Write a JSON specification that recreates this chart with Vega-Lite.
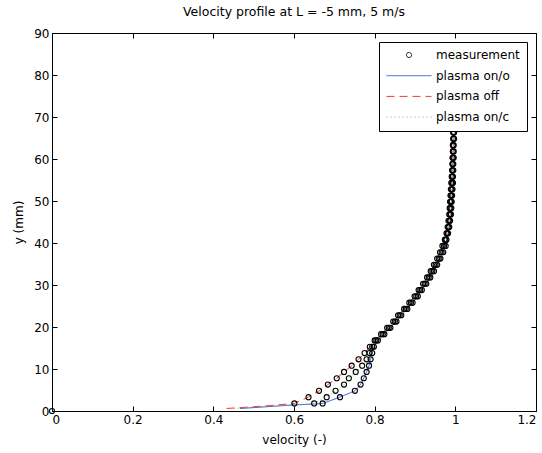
{
  "$schema": "https://vega.github.io/schema/vega-lite/v6.json",
  "width": 484,
  "height": 378,
  "autosize": {"type": "none"},
  "padding": {"left": 52, "top": 33, "right": 6, "bottom": 42},
  "background": "white",
  "title": {"text": "Velocity profile at L = -5 mm, 5 m/s", "font": "DejaVu Sans", "fontSize": 12.5, "fontWeight": "normal", "color": "black", "offset": 9},
  "data": {"values": [
    {"s": "measurement", "v": 0, "y": 0, "m": 1},
    {"s": "plasma on/o", "v": 0.466, "y": 0.6, "m": 0},
    {"s": "plasma on/o", "v": 0.53, "y": 1.0, "m": 0},
    {"s": "plasma on/o", "v": 0.60, "y": 1.45, "m": 0},
    {"s": "plasma on/o", "v": 0.65, "y": 1.65, "m": 0},
    {"s": "plasma on/o", "v": 0.671, "y": 1.8, "m": 1},
    {"s": "plasma on/o", "v": 0.714, "y": 3.3, "m": 1},
    {"s": "plasma on/o", "v": 0.751, "y": 4.8, "m": 1},
    {"s": "plasma on/o", "v": 0.765, "y": 6.3, "m": 1},
    {"s": "plasma on/o", "v": 0.773, "y": 7.8, "m": 1},
    {"s": "plasma on/o", "v": 0.780, "y": 9.3, "m": 1},
    {"s": "plasma on/o", "v": 0.786, "y": 10.8, "m": 1},
    {"s": "plasma on/o", "v": 0.790, "y": 12.3, "m": 1},
    {"s": "plasma on/o", "v": 0.794, "y": 13.8, "m": 1},
    {"s": "plasma on/o", "v": 0.798, "y": 15.3, "m": 1},
    {"s": "plasma on/o", "v": 0.808, "y": 16.8, "m": 1},
    {"s": "plasma on/o", "v": 0.824, "y": 18.3, "m": 1},
    {"s": "plasma on/o", "v": 0.839, "y": 19.8, "m": 1},
    {"s": "plasma on/o", "v": 0.854, "y": 21.3, "m": 1},
    {"s": "plasma on/o", "v": 0.866, "y": 22.8, "m": 1},
    {"s": "plasma on/o", "v": 0.881, "y": 24.3, "m": 1},
    {"s": "plasma on/o", "v": 0.894, "y": 25.8, "m": 1},
    {"s": "plasma on/o", "v": 0.907, "y": 27.3, "m": 1},
    {"s": "plasma on/o", "v": 0.917, "y": 28.8, "m": 1},
    {"s": "plasma on/o", "v": 0.928, "y": 30.3, "m": 1},
    {"s": "plasma on/o", "v": 0.938, "y": 31.8, "m": 1},
    {"s": "plasma on/o", "v": 0.947, "y": 33.3, "m": 1},
    {"s": "plasma on/o", "v": 0.955, "y": 34.8, "m": 1},
    {"s": "plasma on/o", "v": 0.963, "y": 36.3, "m": 1},
    {"s": "plasma on/o", "v": 0.970, "y": 37.8, "m": 1},
    {"s": "plasma on/o", "v": 0.976, "y": 39.3, "m": 1},
    {"s": "plasma on/o", "v": 0.978, "y": 40.8, "m": 1},
    {"s": "plasma on/o", "v": 0.982, "y": 42.3, "m": 1},
    {"s": "plasma on/o", "v": 0.985, "y": 43.8, "m": 1},
    {"s": "plasma on/o", "v": 0.987, "y": 45.3, "m": 1},
    {"s": "plasma on/o", "v": 0.989, "y": 46.8, "m": 1},
    {"s": "plasma on/o", "v": 0.990, "y": 48.3, "m": 1},
    {"s": "plasma on/o", "v": 0.991, "y": 49.8, "m": 1},
    {"s": "plasma on/o", "v": 0.992, "y": 51.3, "m": 1},
    {"s": "plasma on/o", "v": 0.993, "y": 52.8, "m": 1},
    {"s": "plasma on/o", "v": 0.994, "y": 54.3, "m": 1},
    {"s": "plasma on/o", "v": 0.994, "y": 55.8, "m": 1},
    {"s": "plasma on/o", "v": 0.995, "y": 57.3, "m": 1},
    {"s": "plasma on/o", "v": 0.995, "y": 58.8, "m": 1},
    {"s": "plasma on/o", "v": 0.996, "y": 60.3, "m": 1},
    {"s": "plasma on/o", "v": 0.996, "y": 61.8, "m": 1},
    {"s": "plasma on/o", "v": 0.996, "y": 63.3, "m": 1},
    {"s": "plasma on/o", "v": 0.997, "y": 64.8, "m": 1},
    {"s": "plasma on/o", "v": 0.997, "y": 66.3, "m": 1},
    {"s": "plasma off", "v": 0.433, "y": 0.6, "m": 0},
    {"s": "plasma off", "v": 0.52, "y": 1.15, "m": 0},
    {"s": "plasma off", "v": 0.601, "y": 1.8, "m": 1},
    {"s": "plasma off", "v": 0.636, "y": 3.3, "m": 1},
    {"s": "plasma off", "v": 0.662, "y": 4.8, "m": 1},
    {"s": "plasma off", "v": 0.684, "y": 6.3, "m": 1},
    {"s": "plasma off", "v": 0.706, "y": 7.8, "m": 1},
    {"s": "plasma off", "v": 0.724, "y": 9.3, "m": 1},
    {"s": "plasma off", "v": 0.743, "y": 10.8, "m": 1},
    {"s": "plasma off", "v": 0.760, "y": 12.3, "m": 1},
    {"s": "plasma off", "v": 0.775, "y": 13.8, "m": 1},
    {"s": "plasma off", "v": 0.788, "y": 15.3, "m": 1},
    {"s": "plasma off", "v": 0.800, "y": 16.8, "m": 1},
    {"s": "plasma off", "v": 0.816, "y": 18.3, "m": 1},
    {"s": "plasma off", "v": 0.831, "y": 19.8, "m": 1},
    {"s": "plasma off", "v": 0.846, "y": 21.3, "m": 1},
    {"s": "plasma off", "v": 0.858, "y": 22.8, "m": 1},
    {"s": "plasma off", "v": 0.873, "y": 24.3, "m": 1},
    {"s": "plasma off", "v": 0.886, "y": 25.8, "m": 1},
    {"s": "plasma off", "v": 0.899, "y": 27.3, "m": 1},
    {"s": "plasma off", "v": 0.909, "y": 28.8, "m": 1},
    {"s": "plasma off", "v": 0.920, "y": 30.3, "m": 1},
    {"s": "plasma off", "v": 0.930, "y": 31.8, "m": 1},
    {"s": "plasma off", "v": 0.939, "y": 33.3, "m": 1},
    {"s": "plasma off", "v": 0.947, "y": 34.8, "m": 1},
    {"s": "plasma off", "v": 0.955, "y": 36.3, "m": 1},
    {"s": "plasma off", "v": 0.962, "y": 37.8, "m": 1},
    {"s": "plasma off", "v": 0.968, "y": 39.3, "m": 1},
    {"s": "plasma off", "v": 0.974, "y": 40.8, "m": 1},
    {"s": "plasma off", "v": 0.978, "y": 42.3, "m": 1},
    {"s": "plasma off", "v": 0.981, "y": 43.8, "m": 1},
    {"s": "plasma off", "v": 0.983, "y": 45.3, "m": 1},
    {"s": "plasma off", "v": 0.985, "y": 46.8, "m": 1},
    {"s": "plasma off", "v": 0.986, "y": 48.3, "m": 1},
    {"s": "plasma off", "v": 0.987, "y": 49.8, "m": 1},
    {"s": "plasma off", "v": 0.988, "y": 51.3, "m": 1},
    {"s": "plasma off", "v": 0.989, "y": 52.8, "m": 1},
    {"s": "plasma off", "v": 0.990, "y": 54.3, "m": 1},
    {"s": "plasma off", "v": 0.991, "y": 55.8, "m": 1},
    {"s": "plasma off", "v": 0.992, "y": 57.3, "m": 1},
    {"s": "plasma off", "v": 0.993, "y": 58.8, "m": 1},
    {"s": "plasma off", "v": 0.993, "y": 60.3, "m": 1},
    {"s": "plasma off", "v": 0.994, "y": 61.8, "m": 1},
    {"s": "plasma off", "v": 0.994, "y": 63.3, "m": 1},
    {"s": "plasma off", "v": 0.995, "y": 64.8, "m": 1},
    {"s": "plasma off", "v": 0.995, "y": 66.3, "m": 1},
    {"s": "plasma on/c", "v": 0.45, "y": 0.6, "m": 0},
    {"s": "plasma on/c", "v": 0.60, "y": 1.5, "m": 0},
    {"s": "plasma on/c", "v": 0.650, "y": 1.8, "m": 1},
    {"s": "plasma on/c", "v": 0.681, "y": 3.3, "m": 1},
    {"s": "plasma on/c", "v": 0.703, "y": 4.8, "m": 1},
    {"s": "plasma on/c", "v": 0.724, "y": 6.3, "m": 1},
    {"s": "plasma on/c", "v": 0.736, "y": 7.8, "m": 1},
    {"s": "plasma on/c", "v": 0.753, "y": 9.3, "m": 1},
    {"s": "plasma on/c", "v": 0.769, "y": 10.8, "m": 1},
    {"s": "plasma on/c", "v": 0.780, "y": 12.3, "m": 1},
    {"s": "plasma on/c", "v": 0.787, "y": 13.8, "m": 1},
    {"s": "plasma on/c", "v": 0.794, "y": 15.3, "m": 1},
    {"s": "plasma on/c", "v": 0.804, "y": 16.8, "m": 1},
    {"s": "plasma on/c", "v": 0.820, "y": 18.3, "m": 1},
    {"s": "plasma on/c", "v": 0.835, "y": 19.8, "m": 1},
    {"s": "plasma on/c", "v": 0.850, "y": 21.3, "m": 1},
    {"s": "plasma on/c", "v": 0.862, "y": 22.8, "m": 1},
    {"s": "plasma on/c", "v": 0.877, "y": 24.3, "m": 1},
    {"s": "plasma on/c", "v": 0.890, "y": 25.8, "m": 1},
    {"s": "plasma on/c", "v": 0.903, "y": 27.3, "m": 1},
    {"s": "plasma on/c", "v": 0.913, "y": 28.8, "m": 1},
    {"s": "plasma on/c", "v": 0.924, "y": 30.3, "m": 1},
    {"s": "plasma on/c", "v": 0.934, "y": 31.8, "m": 1},
    {"s": "plasma on/c", "v": 0.943, "y": 33.3, "m": 1},
    {"s": "plasma on/c", "v": 0.951, "y": 34.8, "m": 1},
    {"s": "plasma on/c", "v": 0.959, "y": 36.3, "m": 1},
    {"s": "plasma on/c", "v": 0.966, "y": 37.8, "m": 1},
    {"s": "plasma on/c", "v": 0.972, "y": 39.3, "m": 1},
    {"s": "plasma on/c", "v": 0.976, "y": 40.8, "m": 1},
    {"s": "plasma on/c", "v": 0.980, "y": 42.3, "m": 1},
    {"s": "plasma on/c", "v": 0.983, "y": 43.8, "m": 1},
    {"s": "plasma on/c", "v": 0.985, "y": 45.3, "m": 1},
    {"s": "plasma on/c", "v": 0.987, "y": 46.8, "m": 1},
    {"s": "plasma on/c", "v": 0.988, "y": 48.3, "m": 1},
    {"s": "plasma on/c", "v": 0.989, "y": 49.8, "m": 1},
    {"s": "plasma on/c", "v": 0.990, "y": 51.3, "m": 1},
    {"s": "plasma on/c", "v": 0.991, "y": 52.8, "m": 1},
    {"s": "plasma on/c", "v": 0.992, "y": 54.3, "m": 1},
    {"s": "plasma on/c", "v": 0.992, "y": 55.8, "m": 1},
    {"s": "plasma on/c", "v": 0.993, "y": 57.3, "m": 1},
    {"s": "plasma on/c", "v": 0.993, "y": 58.8, "m": 1},
    {"s": "plasma on/c", "v": 0.994, "y": 60.3, "m": 1},
    {"s": "plasma on/c", "v": 0.994, "y": 61.8, "m": 1},
    {"s": "plasma on/c", "v": 0.994, "y": 63.3, "m": 1},
    {"s": "plasma on/c", "v": 0.995, "y": 64.8, "m": 1},
    {"s": "plasma on/c", "v": 0.995, "y": 66.3, "m": 1}
  ]},
  "layer": [
    {
      "transform": [{"filter": "datum.s !== 'measurement'"}],
      "mark": {"type": "line", "strokeWidth": 1, "clip": true},
      "encoding": {
        "x": {"field": "v", "type": "quantitative", "scale": {"domain": [0, 1.2], "nice": false, "zero": false},
              "axis": {"orient": "bottom", "values": [0, 0.2, 0.4, 0.6, 0.8, 1, 1.2], "format": "~g", "title": "velocity (-)", "titlePadding": 9}},
        "y": {"field": "y", "type": "quantitative", "scale": {"domain": [0, 90], "nice": false, "zero": false},
              "axis": {"orient": "left", "values": [0, 10, 20, 30, 40, 50, 60, 70, 80, 90], "title": "y (mm)", "titlePadding": 8}},
        "order": {"field": "y", "type": "quantitative"},
        "color": {"field": "s", "type": "nominal",
                  "scale": {"domain": ["measurement", "plasma on/o", "plasma off", "plasma on/c"], "range": ["black", "#3355dd", "#ff3333", "#55cc55"]},
                  "legend": {
                    "title": null, "orient": "top-right", "offset": 9, "fillColor": "white", "strokeColor": "black",
                    "padding": 7, "clipHeight": 12, "rowPadding": 8.7, "symbolOffset": 0, "labelOffset": 4, "symbolSize": 2025,
                    "labelFont": "DejaVu Sans", "labelFontSize": 12, "labelColor": "black",
                    "encode": {"symbols": {"update": {
                      "shape": {"signal": "datum.value === 'measurement' ? 'circle' : 'stroke'"},
                      "size": {"signal": "datum.value === 'measurement' ? 26 : 2025"},
                      "strokeDash": {"signal": "datum.value === 'plasma off' ? [8, 5] : (datum.value === 'plasma on/c' ? [1, 3] : [1, 0])"},
                      "stroke": {"signal": "datum.value === 'measurement' ? 'black' : (datum.value === 'plasma on/o' ? '#3355dd' : (datum.value === 'plasma off' ? '#ff3333' : '#55cc55'))"},
                      "fill": {"value": "transparent"},
                      "strokeWidth": {"value": 1},
                      "opacity": {"value": 1}
                    }}}
                  }},
        "strokeDash": {"field": "s", "type": "nominal",
                       "scale": {"domain": ["plasma on/o", "plasma off", "plasma on/c"], "range": [[1, 0], [8, 5], [1, 3]]},
                       "legend": null}
      }
    },
    {
      "transform": [{"filter": "datum.m === 1"}],
      "mark": {"type": "point", "filled": false, "shape": "circle", "size": 26, "strokeWidth": 1.1, "opacity": 1},
      "encoding": {
        "x": {"field": "v", "type": "quantitative",
              "axis": {"orient": "top", "values": [0, 0.2, 0.4, 0.6, 0.8, 1, 1.2], "labels": false, "title": null}},
        "y": {"field": "y", "type": "quantitative",
              "axis": {"orient": "right", "values": [0, 10, 20, 30, 40, 50, 60, 70, 80, 90], "labels": false, "title": null}},
        "color": {"datum": "measurement", "type": "nominal"}
      }
    }
  ],
  "resolve": {"axis": {"x": "independent", "y": "independent"}},
  "config": {
    "view": {"stroke": "black", "strokeWidth": 1},
    "axis": {
      "grid": false, "domainColor": "black", "tickColor": "black", "labelColor": "black", "titleColor": "black",
      "labelFont": "DejaVu Sans", "labelFontSize": 12, "titleFont": "DejaVu Sans", "titleFontSize": 12, "titleFontWeight": "normal",
      "tickSize": -5, "labelPadding": 8, "titlePadding": 4
    }
  }
}
